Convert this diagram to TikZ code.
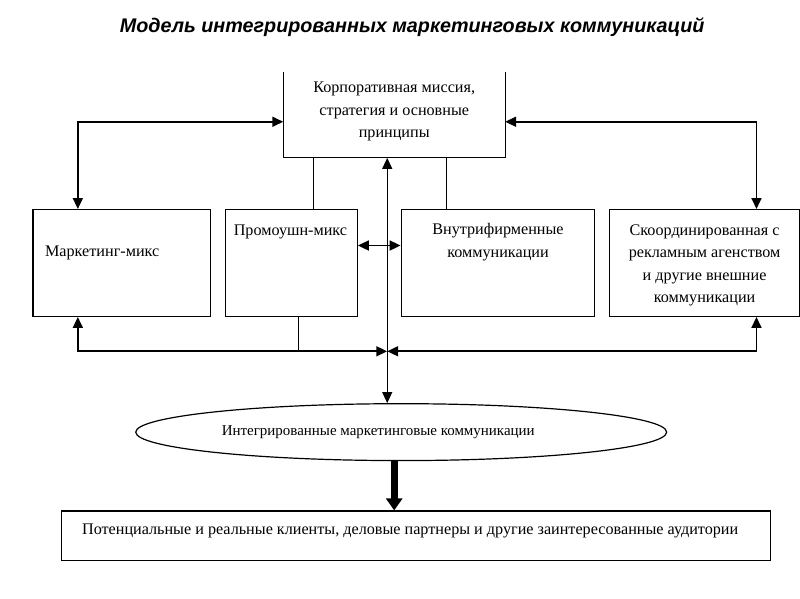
\documentclass[tikz,border=0pt]{standalone}
\usepackage{fontspec}
\setmainfont{Liberation Serif}
\newfontfamily\headfont{Liberation Sans}
\usetikzlibrary{shapes.geometric}
\usetikzlibrary{arrows.meta}
\usetikzlibrary{positioning}

\begin{document}
\begin{tikzpicture}[x=1pt,y=-1pt,
  box/.style={draw,line width=1.2pt,rectangle,inner sep=0pt,minimum height=107pt},
  txt/.style={align=center,inner sep=0pt,font=\fontsize{16.2}{22.5}\selectfont},
  link/.style={line width=1.8pt,{Triangle[length=11pt,width=10pt]}-{Triangle[length=11pt,width=10pt]}},
  plain/.style={line width=1.1pt},
  spine/.style={line width=1.1pt,{Triangle[length=11pt,width=10pt]}-{Triangle[length=11pt,width=10pt]}},
  bigarrow/.style={line width=7pt,-{Triangle[length=12pt,width=16pt]}}]
\fill[white] (0,0) rectangle (800,600);
\node[font=\headfont\bfseries\itshape\fontsize{19.8}{22}\selectfont] (title) at (413,27) {Модель интегрированных маркетинговых коммуникаций};
% top block (open at the top)
\node[inner sep=0pt,minimum width=222pt,minimum height=86pt] (top) at (395,115) {};
\draw[plain] (top.north west) -- (top.south west) -- (top.south east) -- (top.north east);
\node[txt] (toptext) at (395,112) {Корпоративная миссия,\\стратегия и основные\\принципы};
% middle row
\node[box,minimum width=178pt] (mkt) at (122,263.5) {};
\node[box,minimum width=132pt] (promo) at (292,263.5) {};
\node[box,minimum width=194pt] (intern) at (499,263.5) {};
\node[box,minimum width=190pt] (coord) at (706,263.5) {};
\node[txt,anchor=west] (mkttext) at (45,253) {Маркетинг-микс};
\node[txt] (promotext) at (291,232) {Промоушн-микс};
\node[txt] (interntext) at (499,242.5) {Внутрифирменные\\коммуникации};
\node[txt] (coordtext) at (706,266) {Скоординированная с\\рекламным агенством\\и другие внешние\\коммуникации};
% bottom
\node[draw,ellipse,line width=1.2pt,inner sep=0pt,minimum width=532pt,minimum height=57pt] (imc) at (402,433) {};
\node[txt,font=\fontsize{15}{20}\selectfont] (imctext) at (379,433) {Интегрированные маркетинговые коммуникации};
\node[draw,rectangle,line width=1.2pt,inner sep=0pt,minimum width=710pt,minimum height=50pt] (aud) at (417,537) {};
\node[txt] (audtext) at (411,532) {Потенциальные и реальные клиенты, деловые партнеры и другие заинтересованные аудитории};
\coordinate (hub) at (388,352);
% connectors
\draw[link] ([yshift=-7pt]top.west) -| ([xshift=-44pt]mkt.north);
\draw[link] ([yshift=-7pt]top.east) -| ([xshift=52pt]coord.north);
\draw[plain] ([xshift=22pt]promo.north) -- ([xshift=22pt]promo.north |- top.south);
\draw[plain] ([xshift=-52pt]intern.north) -- ([xshift=-52pt]intern.north |- top.south);
\draw[spine] ([xshift=-7pt]top.south) -- ([xshift=-7pt]top.south |- imc.north);
\draw[link] ([yshift=17.5pt]promo.east) -- ([yshift=17.5pt]promo.east -| intern.west);
\draw[link] ([xshift=-44pt]mkt.south) |- (hub);
\draw[link] ([xshift=52pt]coord.south) |- (hub);
\draw[plain] ([xshift=7pt]promo.south) -- ([xshift=7pt]promo.south |- hub);
\draw[bigarrow] ([xshift=-7pt]imc.south) -- ([xshift=-7pt]imc.south |- aud.north);
\end{tikzpicture}
\end{document}
